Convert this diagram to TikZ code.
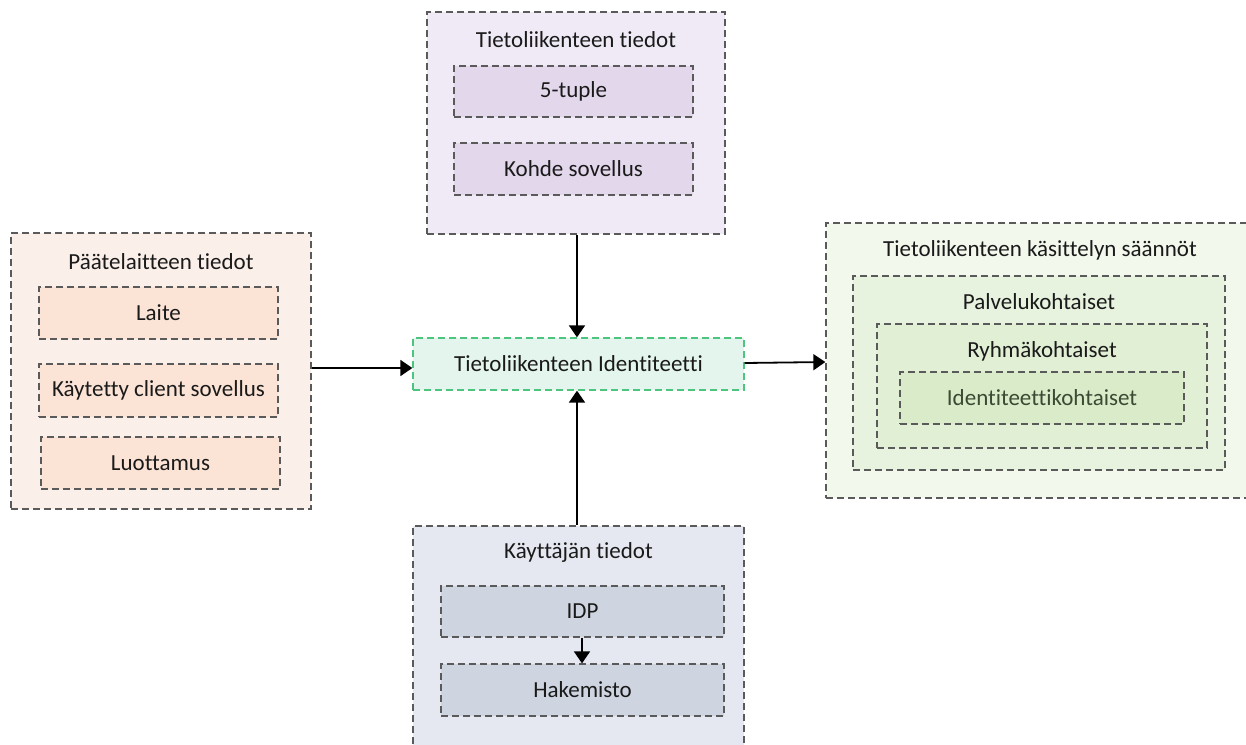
\documentclass[tikz,border=0pt]{standalone}
\usepackage{fontspec}
\setmainfont[Ligatures=NoCommon]{Carlito}
\usetikzlibrary{arrows.meta}
\definecolor{dashgray}{HTML}{5A5A5A}
\definecolor{peachA}{HTML}{FBEFEA}
\definecolor{peachB}{HTML}{FBE4D6}
\definecolor{lilacA}{HTML}{EFEAF5}
\definecolor{lilacB}{HTML}{E3D7EC}
\definecolor{mintA}{HTML}{E3F5EC}
\definecolor{mintLine}{HTML}{4CC57F}
\definecolor{slateA}{HTML}{E5E8F1}
\definecolor{slateB}{HTML}{CFD5E0}
\definecolor{leafA}{HTML}{F2F8EC}
\definecolor{leafB}{HTML}{E8F3DF}
\definecolor{leafC}{HTML}{E1EFD5}
\definecolor{leafD}{HTML}{D9EBC9}
\definecolor{leafText}{HTML}{3A4A33}
\definecolor{txt}{HTML}{1A1A1A}
\tikzset{
  box/.style={draw=dashgray, line width=1.3pt, dash pattern=on 7pt off 4pt,
    rectangle, inner sep=0pt, text=txt},
  label/.style={inner sep=0pt, text=txt},
  link/.style={line width=1.8pt, -{Triangle[length=12pt,width=16pt]}},
}
\begin{document}
\begin{tikzpicture}[x=1pt, y=-1pt, font=\fontsize{23}{27}\selectfont]
\clip (0,0) rectangle (1246,744);
\fill[white] (0,0) rectangle (1246,744);

% device information
\node[box, fill=peachA, minimum width=300pt, minimum height=276pt] (dev) at (161,371) {};
\node[label] (devt) at (161,262) {Päätelaitteen tiedot};
\node[box, fill=peachB, minimum width=239pt, minimum height=52pt] (laite) at (158.5,313) {Laite};
\node[box, fill=peachB, minimum width=239pt, minimum height=53pt] (client) at (158.5,390.5) {Käytetty client sovellus};
\node[box, fill=peachB, minimum width=239pt, minimum height=52pt] (trust) at (160.5,463) {Luottamus};

% traffic information
\node[box, fill=lilacA, minimum width=298pt, minimum height=222pt] (traf) at (576,123) {};
\node[label] (traft) at (576,40) {Tietoliikenteen tiedot};
\node[box, fill=lilacB, minimum width=239pt, minimum height=51pt] (tuple) at (573.5,91.5) {5-tuple};
\node[box, fill=lilacB, minimum width=239pt, minimum height=52pt] (app) at (573.5,169) {Kohde sovellus};

% traffic identity
\node[box, draw=mintLine, fill=mintA, minimum width=331pt, minimum height=52pt] (ident) at (578.5,364) {Tietoliikenteen Identiteetti};

% user information
\node[box, fill=slateA, minimum width=331pt, minimum height=260pt] (user) at (578.5,656) {};
\node[label] (usert) at (578.5,552) {Käyttäjän tiedot};
\node[box, fill=slateB, minimum width=283pt, minimum height=51pt] (idp) at (582.5,611.5) {IDP};
\node[box, fill=slateB, minimum width=283pt, minimum height=52pt] (dir) at (582.5,690) {Hakemisto};

% handling rules
\node[box, fill=leafA, minimum width=436pt, minimum height=275pt] (rules) at (1044,360.5) {};
\node[label] (rulest) at (1040,250) {Tietoliikenteen käsittelyn säännöt};
\node[box, fill=leafB, minimum width=372pt, minimum height=194pt] (serv) at (1039,373) {};
\node[label] (servt) at (1039,302) {Palvelukohtaiset};
\node[box, fill=leafC, minimum width=330pt, minimum height=124pt] (grp) at (1042,386) {};
\node[label] (grpt) at (1042,351) {Ryhmäkohtaiset};
\node[box, fill=leafD, text=leafText, minimum width=284pt, minimum height=52pt] (idr) at (1042,398) {Identiteettikohtaiset};

% connectors
\draw[link] (dev.east |- 0,368) -- (ident.west |- 0,368);
\draw[link] (traf.south -| 577,0) -- (ident.north -| 577,0);
\draw[link] (user.north -| 577,0) -- (ident.south -| 577,0);
\draw[link] (ident.east |- 0,363) -- (rules.west |- 0,362);
\draw[link] (idp.south -| 582,0) -- (dir.north -| 582,0);
\end{tikzpicture}
\end{document}
